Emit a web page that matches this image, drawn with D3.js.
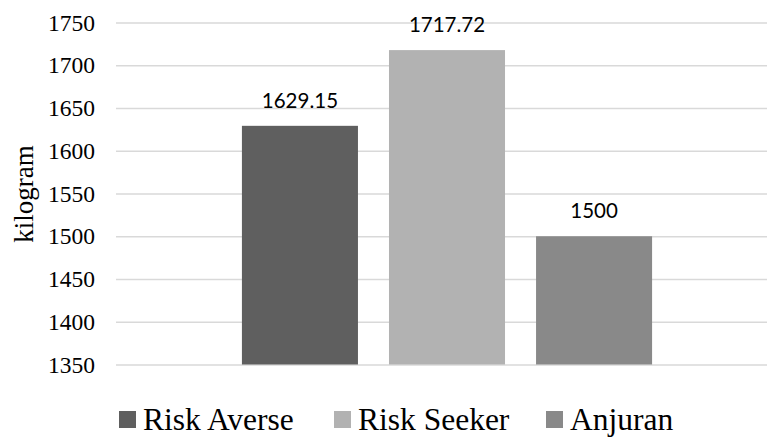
<!DOCTYPE html>
<html>
<head>
<meta charset="utf-8">
<script src="https://cdn.jsdelivr.net/npm/d3@7"></script>
<style>
  html, body { margin: 0; padding: 0; background: #fff; }
  svg { display: block; }
</style>
</head>
<body>
<svg id="chart" width="767" height="437"></svg>
<script>
// Chart data
const categories = [""];
const seriesNames = ["Risk Averse", "Risk Seeker", "Anjuran"];
const seriesValues = [1629.15, 1717.72, 1500];
const seriesLabels = ["1629.15", "1717.72", "1500"];
const yTicks = [1350, 1400, 1450, 1500, 1550, 1600, 1650, 1700, 1750];
const yTitle = "kilogram";

const colors = ["#5f5f5f", "#b2b2b2", "#898989"];

const svg = d3.select("#chart");
const plot = { left: 116, right: 778, top: 22.5, bottom: 364.5 };

const y = d3.scaleLinear().domain([1350, 1750]).range([plot.bottom, plot.top]);

const x0 = d3.scaleBand()
  .domain(categories)
  .range([plot.left, plot.right])
  .paddingInner(0)
  .paddingOuter(0.307);

const x1 = d3.scaleBand()
  .domain(seriesNames)
  .range([0, x0.bandwidth()])
  .paddingInner(0.211)
  .paddingOuter(0);

// Gridlines and tick labels
const yAxis = d3.axisLeft(y)
  .tickValues(yTicks)
  .tickSize(-(plot.right - plot.left))
  .tickPadding(21)
  .tickFormat(d3.format("d"));

const gAxis = svg.append("g")
  .attr("transform", `translate(${plot.left},0)`)
  .call(yAxis);
gAxis.select(".domain").remove();
gAxis.selectAll(".tick line")
  .attr("stroke", "#d9d9d9")
  .attr("stroke-width", 1.5);
gAxis.selectAll(".tick text")
  .attr("fill", "#000")
  .style("font-family", "'Liberation Serif', 'Times New Roman', serif")
  .style("font-size", "23.5px");

// Axis title
svg.append("text")
  .attr("transform", `translate(33,194) rotate(-90)`)
  .attr("text-anchor", "middle")
  .style("font-family", "'Liberation Serif', 'Times New Roman', serif")
  .style("font-size", "27px")
  .attr("fill", "#000")
  .text(yTitle);

// Bars
const group = svg.append("g")
  .attr("transform", `translate(${x0(categories[0])},0)`);

group.selectAll("rect")
  .data(seriesNames)
  .join("rect")
  .attr("x", d => x1(d))
  .attr("width", x1.bandwidth())
  .attr("y", (d, i) => y(seriesValues[i]))
  .attr("height", (d, i) => y(1350) - y(seriesValues[i]))
  .attr("fill", (d, i) => colors[i]);

// Value labels
group.selectAll("text.value")
  .data(seriesNames)
  .join("text")
  .attr("class", "value")
  .attr("x", d => x1(d) + x1.bandwidth() / 2)
  .attr("y", (d, i) => y(seriesValues[i]) - 18)
  .attr("text-anchor", "middle")
  .style("font-family", "Lato, 'Open Sans', sans-serif")
  .style("font-size", "20.5px")
  .attr("fill", "#000")
  .text((d, i) => seriesLabels[i]);

// Legend
const legendX = [119, 334, 546];
const legend = svg.append("g");
seriesNames.forEach((name, i) => {
  const g = legend.append("g").attr("transform", `translate(${legendX[i]},0)`);
  g.append("rect")
    .attr("x", 0).attr("y", 411)
    .attr("width", 17).attr("height", 17)
    .attr("fill", colors[i]);
  g.append("text")
    .attr("x", 24).attr("y", 430)
    .style("font-family", "'Liberation Serif', 'Times New Roman', serif")
    .style("font-size", "31.5px")
    .attr("fill", "#000")
    .text(name);
});
</script>
</body>
</html>
